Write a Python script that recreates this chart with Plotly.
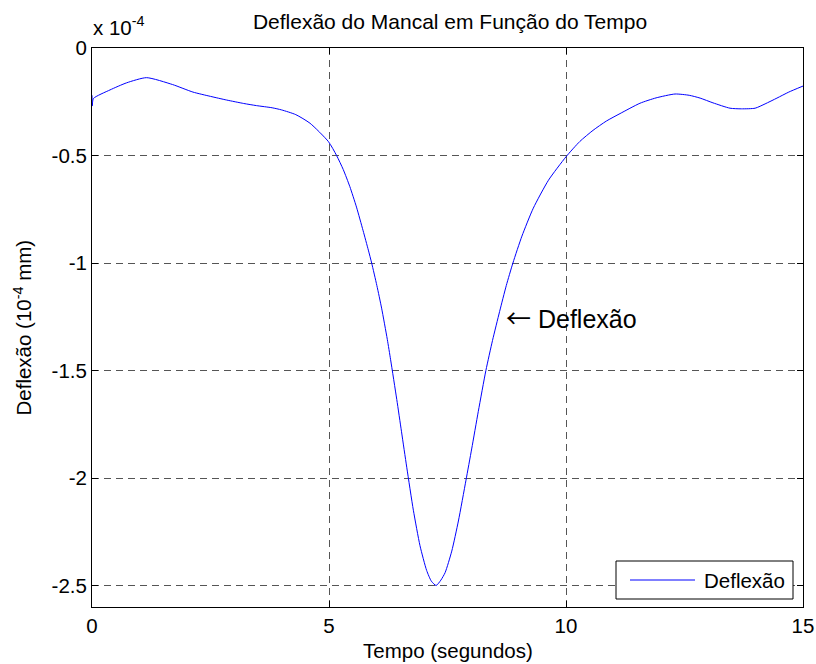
import plotly.graph_objects as go

# Data (time in s, deflection in 1e-4 mm)
tempo = [0.0, 0.005, 0.03, 0.38, 0.73, 1.15, 1.7, 2.13, 2.5, 2.84, 3.2,
         3.47, 3.8, 4.0, 4.3, 4.6, 4.99, 5.16, 5.30, 5.44, 5.58, 5.72, 5.83, 5.90,
         6.01, 6.11, 6.23, 6.30, 6.43, 6.53, 6.64, 6.78, 6.92, 7.06, 7.16, 7.26,
         7.36, 7.45, 7.59, 7.73, 7.89, 8.01, 8.15, 8.31, 8.45, 8.60, 8.74, 8.88,
         9.07, 9.31, 9.63, 10.0, 10.29, 10.57, 10.85, 11.14, 11.56, 11.9, 12.3,
         12.6, 12.83, 13.1, 13.46, 13.7, 13.99, 14.2, 14.45, 14.7, 15.0]
deflexao = [-0.22, -0.27, -0.235, -0.195, -0.162, -0.138, -0.17, -0.205,
            -0.225, -0.242, -0.258, -0.268, -0.278, -0.288, -0.31, -0.35, -0.436, -0.50,
            -0.565, -0.645, -0.74, -0.85, -0.94, -1.0, -1.105, -1.21, -1.355, -1.45,
            -1.635, -1.785, -1.95, -2.15, -2.315, -2.43, -2.48, -2.50, -2.475, -2.44,
            -2.34, -2.2, -2.01, -1.865, -1.69, -1.50, -1.36, -1.225, -1.105, -1.0,
            -0.875, -0.745, -0.615, -0.506, -0.435, -0.383, -0.34, -0.305, -0.257,
            -0.232, -0.214, -0.22, -0.233, -0.255, -0.28, -0.283, -0.28, -0.26, -0.233,
            -0.205, -0.177]

y_ticks = [0, -0.5, -1, -1.5, -2, -2.5]
y_tick_labels = ["0", "-0.5", "-1", "-1.5", "-2", "-2.5"]
x_ticks = [0, 5, 10, 15]
x_tick_labels = ["0", "5", "10", "15"]

font_family = "Liberation Sans, Arial, sans-serif"
FS = 20.5

fig = go.Figure()
fig.add_trace(go.Scatter(
    x=tempo, y=deflexao, mode="lines", name="Deflexão", showlegend=False,
    line=dict(color="#0000ff", width=1, shape="spline", smoothing=0.6),
))

axis_common = dict(
    showline=True, linecolor="black", linewidth=1, mirror="ticks",
    ticks="inside", ticklen=6, tickcolor="black",
    showgrid=True, gridcolor="#555555", griddash="7px,5px", gridwidth=1,
    zeroline=False, automargin=False,
    tickfont=dict(size=FS, color="black", family=font_family),
)

fig.update_layout(
    width=816, height=664,
    paper_bgcolor="white", plot_bgcolor="white",
    margin=dict(l=92, r=13, t=48, b=57),
    font=dict(family=font_family, color="black"),
    title=dict(text="Deflexão do Mancal em Função do Tempo", x=450 / 816, xanchor="center",
               y=1 - 22 / 664, yanchor="middle", font=dict(size=21, color="black")),
    xaxis=dict(range=[0, 15], tickvals=x_ticks, ticktext=x_tick_labels, **axis_common),
    yaxis=dict(range=[-2.6, 0], tickvals=y_ticks, ticktext=y_tick_labels, **axis_common),
    showlegend=False,
)

# axis titles
fig.add_annotation(x=0.5, y=(607 - 650) / 559, xref="paper", yref="paper",
                   xanchor="center", yanchor="middle", showarrow=False,
                   text="Tempo (segundos)", font=dict(size=FS, color="black"))
fig.add_annotation(x=(22 - 92) / 711, y=0.5, xref="paper", yref="paper",
                   xanchor="center", yanchor="middle", showarrow=False, textangle=-90,
                   text="Deflexão (10<sup>-4</sup> mm)", font=dict(size=FS, color="black"))

# exponent label
fig.add_annotation(x=0, y=(607 - 41) / 559, xref="paper", yref="paper", xanchor="left",
                   yanchor="bottom", text="x 10<sup>-4</sup>", showarrow=False, xshift=-1,
                   font=dict(size=FS, color="black"))

# text arrow annotation
fig.add_annotation(x=8.71, y=-1.251, xref="x", yref="y", xanchor="left", yanchor="middle",
                   text="<span style=\"font-family:'Noto Sans CJK JP'\">←</span> Deflexão",
                   showarrow=False, xshift=-1,
                   font=dict(size=25, color="black"))

# legend box (drawn manually to match line sample length)
fig.add_shape(type="rect", xref="paper", yref="paper",
              x0=(616 - 92) / 711, x1=(793 - 92) / 711,
              y0=(607 - 599) / 559, y1=(607 - 561) / 559,
              line=dict(color="black", width=1), fillcolor="white", layer="above")
fig.add_shape(type="line", xref="paper", yref="paper",
              x0=(630 - 92) / 711, x1=(695 - 92) / 711,
              y0=(607 - 580) / 559, y1=(607 - 580) / 559,
              line=dict(color="#0000ff", width=1), layer="above")
fig.add_annotation(x=(702 - 92) / 711, y=(607 - 580) / 559, xref="paper", yref="paper",
                   xanchor="left", yanchor="middle", text="Deflexão", showarrow=False,
                   font=dict(size=FS, color="black"))

fig.write_html("out.html", config={"displayModeBar": False})

with open("out.html", encoding="utf-8") as f:
    html = f.read()
html = html.replace("<body>", '<body style="margin:0;overflow:hidden">', 1)
with open("out.html", "w", encoding="utf-8") as f:
    f.write(html)
